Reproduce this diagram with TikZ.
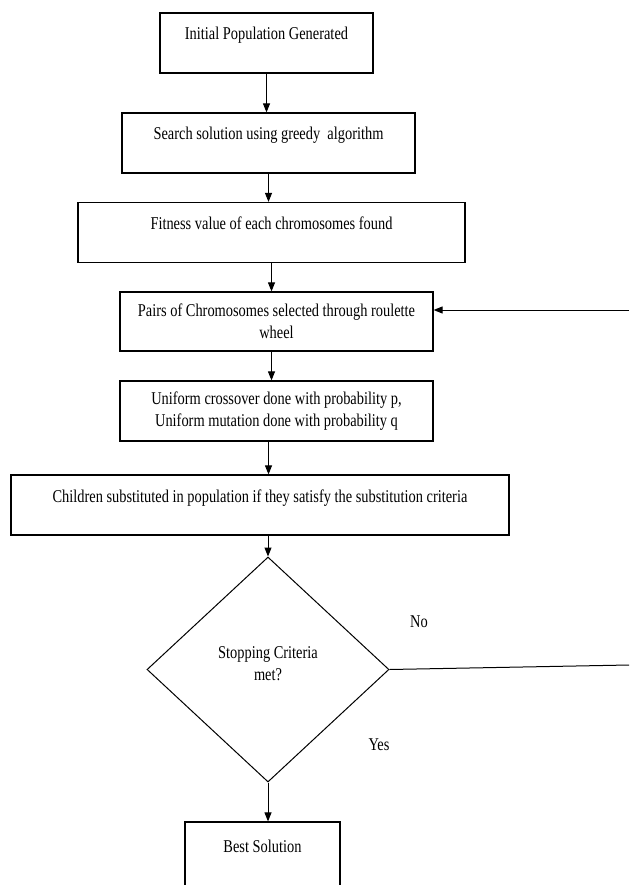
\documentclass[tikz,border=0pt]{standalone}
\usepackage{fontspec}
\setmainfont{Liberation Serif}[FakeStretch=0.8]
\usetikzlibrary{shapes.geometric,arrows.meta}
\begin{document}
\begin{tikzpicture}[x=1pt,y=-1pt,
        font=\fontsize{18}{21.6}\selectfont,
        box/.style={draw,line width=1.2pt,inner sep=0pt,minimum height=60pt,align=center},
        topbox/.style={box,text height=27pt,text depth=33pt},
        decide/.style={draw,diamond,line width=1pt,inner sep=0pt,minimum width=242pt,minimum height=225pt,align=center,text depth=12pt},
        flow/.style={line width=1pt,-{Triangle[length=9pt,width=7pt]}}]
                \useasboundingbox (0,0) rectangle (629,885);
                \node[topbox,minimum width=213pt] (init) at (266.5,43) {Initial Population Generated};
                \node[topbox,minimum width=293pt] (greedy) at (268.5,143) {Search solution using greedy\ \ algorithm};
                \node[topbox,minimum width=387pt,minimum height=59pt] (fitness) at (271.5,232.5) {Fitness value of each chromosomes found};
                \node[box,minimum width=313pt,minimum height=59pt] (pairs) at (276.5,321.5) {Pairs of Chromosomes selected through roulette\\wheel};
                \node[box,minimum width=313pt] (cross) at (276.5,411) {Uniform crossover done with probability p,\\Uniform mutation done with probability q};
                \node[topbox,minimum width=498pt] (children) at (260,505) {Children substituted in population if they satisfy the substitution criteria};
                \node[decide] (stop) at (268,669.5) {Stopping Criteria\\met?};
                \node[topbox,minimum width=155pt,text height=30pt,text depth=70pt] (best) at (262.5,872) {Best Solution};
                \node (no) at (419,622) {No};
                \node (yes) at (379,745) {Yes};
                \coordinate (noend) at (629,665);
                \coordinate (backstart) at (629,310);
                % main flow
                \draw[flow] (init) -- (init |- greedy.north);
                \draw[flow] (greedy) -- (greedy |- fitness.north);
                \draw[flow] (fitness) -- (fitness |- pairs.north);
                \draw[flow] (pairs.south -| fitness) -- (cross.north -| fitness);
                \draw[flow] (cross.south -| greedy) -- (children.north -| greedy);
                \draw[flow] (stop |- children.south) -- (stop);
                \draw[flow] (stop) -- (stop |- best.north);
                % loop back
                \draw[line width=1pt] (stop.east) -- (noend);
                \draw[flow] (backstart) -- (pairs.east |- backstart);
            \end{tikzpicture}
\end{document}
